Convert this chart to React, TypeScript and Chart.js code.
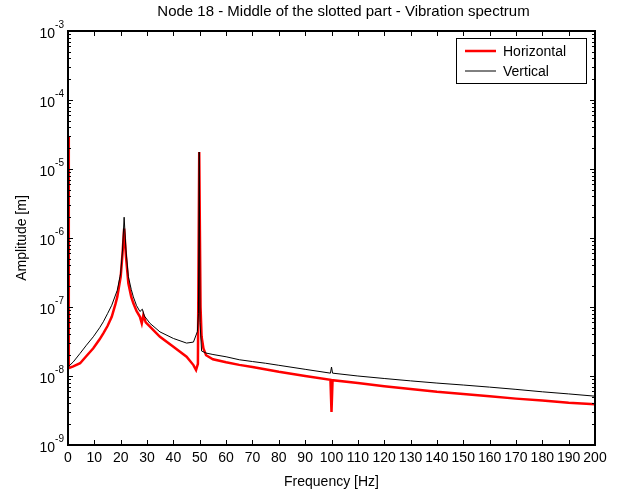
import React, { useEffect, useRef } from 'react';
import { Chart, registerables } from 'chart.js';
Chart.register(...registerables);

const TITLE = 'Node 18 - Middle of the slotted part - Vibration spectrum';
const X_TITLE = 'Frequency [Hz]';
const Y_TITLE = 'Amplitude [m]';
const SERIES_NAMES = ['Horizontal', 'Vertical'];
const SERIES_COLORS = ['#ff0000', '#000000'];

const X_TICKS = [0, 10, 20, 30, 40, 50, 60, 70, 80, 90, 100, 110, 120, 130, 140, 150, 160, 170, 180, 190, 200];
const Y_EXPONENTS = [-3, -4, -5, -6, -7, -8, -9];

// Horizontal (red)
const FREQ_H = [0, 0.3, 2, 4.6, 7, 9.6, 12, 13.4, 15, 16.6, 18, 18.7, 20, 20.7, 21.3, 22.0, 22.9, 24, 24.8, 26, 27.3, 28, 28.6, 29.5, 31.1, 34.9, 40, 45, 47.6, 48.6, 49.3, 49.8, 50.3, 50.7, 51.4, 52.4, 55, 60, 65, 70, 80, 90, 99.6, 100, 100.4, 110, 120, 130, 140, 150, 160, 170, 180, 190, 200];
const AMP_H = [3.0e-5, 1.3e-8, 1.38e-8, 1.53e-8, 1.95e-8, 2.52e-8, 3.4e-8, 4.15e-8, 5.3e-8, 7.2e-8, 1.1e-7, 1.4e-7, 2.75e-7, 6.0e-7, 1.37e-6, 5.4e-7, 2.2e-7, 1.4e-7, 1.13e-7, 8.8e-8, 7.2e-8, 5.8e-8, 7.6e-8, 6.0e-8, 5.2e-8, 3.7e-8, 2.66e-8, 1.9e-8, 1.44e-8, 1.22e-8, 1.5e-8, 1.76e-5, 1.0e-7, 3.7e-8, 2.5e-8, 2.0e-8, 1.75e-8, 1.58e-8, 1.45e-8, 1.35e-8, 1.15e-8, 1.0e-8, 8.8e-9, 3.0e-9, 8.7e-9, 7.9e-9, 7.1e-9, 6.5e-9, 5.9e-9, 5.5e-9, 5.1e-9, 4.7e-9, 4.4e-9, 4.1e-9, 3.9e-9];

// Vertical (black)
const FREQ_V = [0, 2, 4.6, 7, 9.6, 12, 13.4, 15, 16.6, 18.7, 20, 20.7, 21.3, 22.0, 22.9, 24, 24.8, 26, 27.3, 28.2, 29, 31.1, 34.9, 40, 45, 47.6, 49.1, 49.5, 49.8, 50.1, 50.7, 52.4, 55, 60, 65, 70, 75, 80, 90, 99.6, 100, 100.4, 110, 120, 130, 140, 150, 160, 170, 180, 190, 200];
const AMP_V = [1.35e-8, 1.6e-8, 2.13e-8, 2.8e-8, 3.7e-8, 5.0e-8, 6.1e-8, 8.0e-8, 1.06e-7, 1.75e-7, 3.1e-7, 6.7e-7, 2.0e-6, 6.7e-7, 2.76e-7, 1.8e-7, 1.4e-7, 1.05e-7, 8.6e-8, 9.3e-8, 7.4e-8, 5.8e-8, 4.36e-8, 3.5e-8, 3.0e-8, 3.1e-8, 4.4e-8, 8e-8, 1.76e-5, 6e-8, 2.3e-8, 2.15e-8, 2.05e-8, 1.9e-8, 1.72e-8, 1.62e-8, 1.53e-8, 1.43e-8, 1.25e-8, 1.1e-8, 1.35e-8, 1.1e-8, 1.0e-8, 9.2e-9, 8.5e-9, 7.9e-9, 7.4e-9, 6.9e-9, 6.4e-9, 5.9e-9, 5.5e-9, 5.1e-9];

const FONT = '"Liberation Sans", Arial, Helvetica, sans-serif';

const decor = {
  id: 'matlabDecor',
  afterDatasetsDraw(chart: any) {
    const { ctx, chartArea: a, scales } = chart;
    const x = scales.x;
    const y = scales.y;
    ctx.save();
    ctx.strokeStyle = '#000';
    ctx.lineWidth = 1;
    ctx.beginPath();
    for (const t of X_TICKS) {
      const px = Math.round(x.getPixelForValue(t)) + 0.5;
      ctx.moveTo(px, a.bottom);
      ctx.lineTo(px, a.bottom - 5);
      ctx.moveTo(px, a.top);
      ctx.lineTo(px, a.top + 5);
    }
    for (let e = -9; e <= -3; e++) {
      for (let m = 1; m <= 9; m++) {
        if (e === -3 && m > 1) break;
        const py = Math.round(y.getPixelForValue(m * Math.pow(10, e))) + 0.5;
        const len = m === 1 ? 5 : 3;
        ctx.moveTo(a.left, py);
        ctx.lineTo(a.left + len, py);
        ctx.moveTo(a.right, py);
        ctx.lineTo(a.right - len, py);
      }
    }
    ctx.stroke();
    ctx.lineWidth = 2;
    ctx.strokeRect(a.left, a.top, a.right - a.left, a.bottom - a.top);

    ctx.fillStyle = '#000';
    // x tick labels
    ctx.font = '14px ' + FONT;
    ctx.textAlign = 'center';
    ctx.textBaseline = 'top';
    for (const t of X_TICKS) {
      ctx.fillText(String(t), x.getPixelForValue(t), a.bottom + 6);
    }
    // y tick labels
    for (const e of Y_EXPONENTS) {
      const py = y.getPixelForValue(Math.pow(10, e));
      const sup = String(e);
      ctx.font = '10px ' + FONT;
      const supW = ctx.measureText(sup).width;
      const baseX = a.left - 4 - supW;
      ctx.textAlign = 'left';
      ctx.textBaseline = 'middle';
      ctx.fillText(sup, baseX, py - 6);
      ctx.font = '14px ' + FONT;
      ctx.textAlign = 'right';
      ctx.fillText('10', baseX, py + 3);
    }
    // axis titles
    ctx.font = '14px ' + FONT;
    ctx.textAlign = 'center';
    ctx.textBaseline = 'middle';
    const cx = (a.left + a.right) / 2;
    ctx.fillText(X_TITLE, cx, a.bottom + 37);
    ctx.font = '15px ' + FONT;
    ctx.fillText(TITLE, cx + 12, 12);
    ctx.font = '14px ' + FONT;
    ctx.save();
    ctx.translate(22, (a.top + a.bottom) / 2);
    ctx.rotate(-Math.PI / 2);
    ctx.fillText(Y_TITLE, 0, 0);
    ctx.restore();

    // legend
    const lx = 456, ly = 38, lw = 130, lh = 45;
    ctx.fillStyle = '#fff';
    ctx.fillRect(lx, ly, lw, lh);
    ctx.lineWidth = 1;
    ctx.strokeStyle = '#000';
    ctx.strokeRect(lx + 0.5, ly + 0.5, lw, lh);
    const rows = [ly + 13, ly + 33];
    SERIES_NAMES.forEach((name, i) => {
      ctx.strokeStyle = SERIES_COLORS[i];
      ctx.lineWidth = i === 0 ? 2.5 : 1;
      ctx.beginPath();
      ctx.moveTo(lx + 9, rows[i]);
      ctx.lineTo(lx + 40, rows[i]);
      ctx.stroke();
      ctx.fillStyle = '#000';
      ctx.font = '14px ' + FONT;
      ctx.textAlign = 'left';
      ctx.textBaseline = 'middle';
      ctx.fillText(name, lx + 47, rows[i] + 1);
    });
    ctx.restore();
  },
};

export default function App() {
  const ref = useRef<HTMLCanvasElement | null>(null);
  useEffect(() => {
    if (!ref.current) return;
    const toPts = (fs: number[], as: number[]) => fs.map((f, i) => ({ x: f, y: as[i] }));
    const chart = new Chart(ref.current, {
      type: 'line',
      data: {
        datasets: [
          {
            label: SERIES_NAMES[0],
            data: toPts(FREQ_H, AMP_H),
            borderColor: SERIES_COLORS[0],
            borderWidth: 2.5,
            pointRadius: 0,
            tension: 0,
            fill: false,
            order: 1,
          },
          {
            label: SERIES_NAMES[1],
            data: toPts(FREQ_V, AMP_V),
            borderColor: SERIES_COLORS[1],
            borderWidth: 1,
            pointRadius: 0,
            tension: 0,
            fill: false,
            order: 0,
          },
        ],
      },
      options: {
        responsive: false,
        animation: false,
        devicePixelRatio: 1,
        layout: { padding: { left: 68, right: 24, top: 31, bottom: 54 } },
        plugins: { legend: { display: false }, tooltip: { enabled: false }, title: { display: false } },
        scales: {
          x: { type: 'linear', min: 0, max: 200, display: false },
          y: { type: 'logarithmic', min: 1e-9, max: 1e-3, display: false },
        },
      },
      plugins: [decor],
    });
    return () => chart.destroy();
  }, []);
  return (
    <div style={{ position: 'fixed', left: 0, top: 0, width: 619, height: 499, background: '#fff' }}>
      <canvas ref={ref} width={619} height={499} style={{ display: 'block' }} />
    </div>
  );
}
